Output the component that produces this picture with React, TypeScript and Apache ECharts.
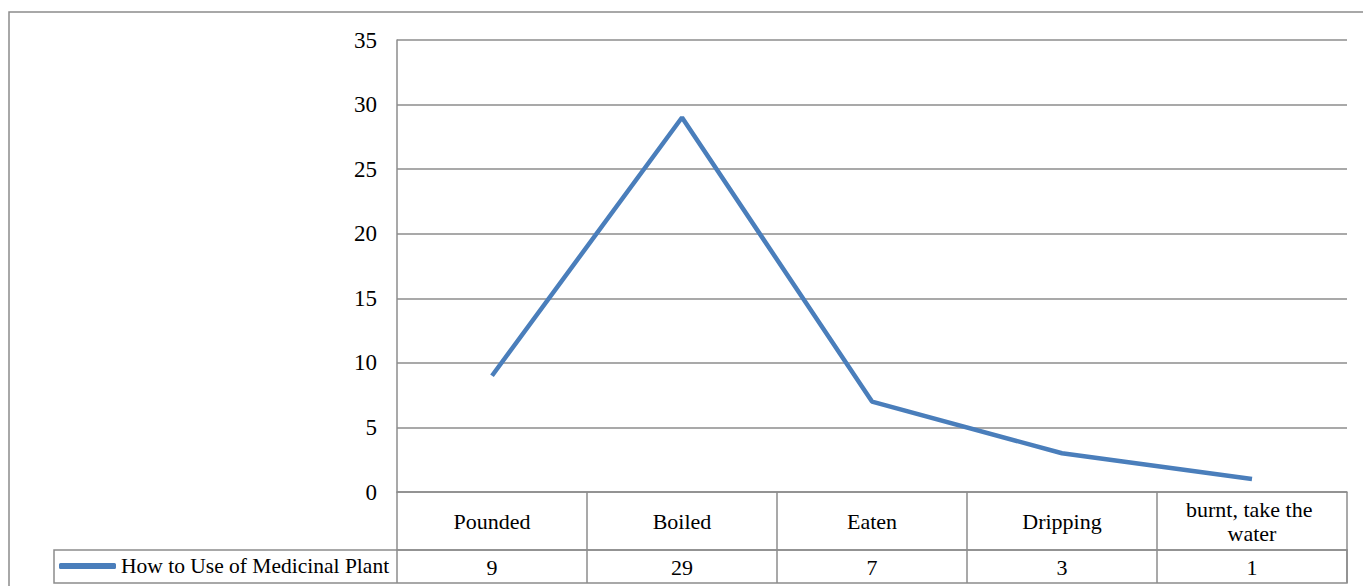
import React, { useEffect, useRef } from "react";
import * as echarts from "echarts";

const categories = ["Pounded", "Boiled", "Eaten", "Dripping", "burnt, take the water"];
const values = [9, 29, 7, 3, 1];
const seriesName = "How to Use of Medicinal Plant";
const yTicks = { min: 0, max: 35, interval: 5 };

const FONT = "'Liberation Serif', 'DejaVu Serif', serif";
const GRID = "#8c8c8c";
const BLUE = "#4a7ebb";

export default function App() {
  const ref = useRef<HTMLDivElement>(null);
  useEffect(() => {
    if (!ref.current) return;
    const chart = echarts.init(ref.current, undefined, { renderer: "svg" });
    chart.setOption({
      animation: false,
      backgroundColor: "#ffffff",
      textStyle: { fontFamily: FONT },
      grid: { left: 397, top: 40, right: 16, bottom: 94, containLabel: false },
      legend: {
        show: true,
        left: 59,
        top: 555,
        padding: 0,
        icon: "roundRect",
        itemWidth: 57,
        itemHeight: 6,
        itemGap: 5,
        textStyle: { fontFamily: FONT, fontSize: 21.5, color: "#000", lineHeight: 22 },
        data: [seriesName],
      },
      xAxis: [
        {
          type: "category",
          data: categories,
          boundaryGap: true,
          position: "bottom",
          axisLine: { show: true, lineStyle: { color: GRID, width: 1.5 } },
          axisTick: { show: true, interval: 0, length: 58, inside: false, lineStyle: { color: GRID, width: 1.5 } },
          axisLabel: {
            interval: 0,
            margin: 29,
            verticalAlign: "middle",
            width: 160,
            overflow: "break",
            lineHeight: 24,
            fontFamily: FONT,
            fontSize: 22,
            color: "#000",
          },
        },
        {
          type: "category",
          data: values.map((v) => String(v)),
          boundaryGap: true,
          position: "bottom",
          offset: 58,
          axisLine: { show: true, lineStyle: { color: GRID, width: 1.5 } },
          axisTick: { show: true, interval: 0, length: 33, inside: false, lineStyle: { color: GRID, width: 1.5 } },
          axisLabel: {
            interval: 0,
            margin: 17,
            verticalAlign: "middle",
            fontFamily: FONT,
            fontSize: 22,
            color: "#000",
          },
        },
      ],
      yAxis: {
        type: "value",
        min: yTicks.min,
        max: yTicks.max,
        interval: yTicks.interval,
        axisLine: { show: true, lineStyle: { color: GRID, width: 1.5 } },
        axisTick: { show: false },
        splitLine: { show: true, lineStyle: { color: GRID, width: 1.5 } },
        axisLabel: { margin: 20, fontFamily: FONT, fontSize: 23, color: "#000" },
      },
      graphic: [
        {
          type: "rect",
          shape: { x: 9, y: 12, width: 1380, height: 600 },
          style: { fill: "none", stroke: GRID, lineWidth: 1.5 },
          silent: true,
        },
        {
          type: "rect",
          shape: { x: 54, y: 550, width: 1293, height: 33 },
          style: { fill: "none", stroke: GRID, lineWidth: 1.5 },
          silent: true,
        },
      ],
      series: [
        {
          name: seriesName,
          type: "line",
          data: values,
          xAxisIndex: 0,
          symbol: "none",
          smooth: false,
          lineStyle: { color: BLUE, width: 4.5 },
          itemStyle: { color: BLUE },
        },
      ],
    });
    return () => chart.dispose();
  }, []);
  return (
    <div
      ref={ref}
      style={{ position: "fixed", left: 0, top: 0, width: 1363, height: 586 }}
    />
  );
}
